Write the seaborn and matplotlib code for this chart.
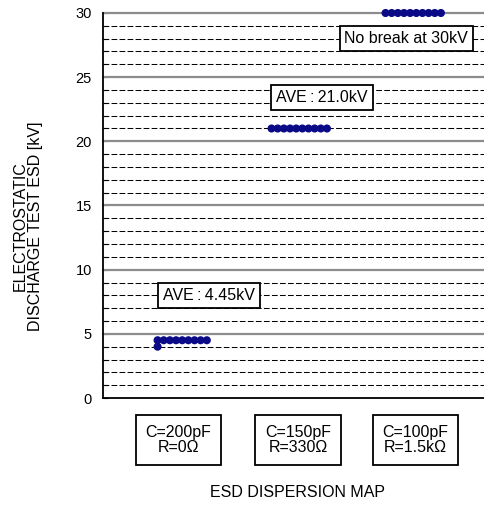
import numpy as np
import pandas as pd
import matplotlib
matplotlib.use("Agg")
import matplotlib.pyplot as plt
import matplotlib.transforms as mtransforms
import seaborn as sns

# ---- data ----
conditions = ["C=200pF\nR=0Ω", "C=150pF\nR=330Ω", "C=100pF\nR=1.5kΩ"]
esd_200pF = [4.0, 4.5, 4.5, 4.5, 4.5, 4.5, 4.5, 4.5, 4.5, 4.5]
esd_150pF = [21.0, 21.0, 21.0, 21.0, 21.0, 21.0, 21.0, 21.0, 21.0, 21.0]
esd_100pF = [30.0, 30.0, 30.0, 30.0, 30.0, 30.0, 30.0, 30.0, 30.0, 30.0]
notes = ["AVE\u2009:\u20094.45kV", "AVE\u2009:\u200921.0kV", "No break at 30kV"]
note_y = [8.0, 23.4, 28.0]
note_dx = [0.22, 0.21, -0.05]
box_dx = [-0.05, 0.0, 0.03]
y_ticks = [0, 5, 10, 15, 20, 25, 30]

sns.set_style("white")
plt.rcParams["font.family"] = ["Liberation Sans", "DejaVu Sans"]
plt.rcParams["font.size"] = 11.5
plt.rcParams["text.color"] = "black"
plt.rcParams["axes.labelcolor"] = "black"

# build dot-plot table: samples with equal value stacked sideways
step = 0.054
rows = []
for gi, vals in enumerate([esd_200pF, esd_150pF, esd_100pF]):
    counts = {}
    for v in vals:
        k = counts.get(v, 0)
        counts[v] = k + 1
        rows.append({"x": gi + (k - 4.3) * step, "esd": v, "cond": conditions[gi]})
df = pd.DataFrame(rows)

fig = plt.figure(figsize=(4.84, 5.11), dpi=100)
ax = fig.add_axes([103 / 484, 113 / 511, 388 / 484, 385 / 511])

# grid
for v in np.arange(0, 31, 1):
    if v % 5 == 0:
        continue
    ax.axhline(v, color="black", lw=0.75, ls=(0, (5.5, 2.2)), zorder=1)
for v in y_ticks[1:]:
    ax.axhline(v, color="#8c8c8c", lw=1.6, zorder=1.5, clip_on=False)

sns.scatterplot(data=df, x="x", y="esd", ax=ax, color="#0a0a86", s=34,
                edgecolor="none", linewidth=0, zorder=5, clip_on=False, legend=False)

ax.set_xlim(-0.711, 2.693)
ax.set_ylim(0, 30)
ax.set_yticks(y_ticks)
ax.set_yticks(np.arange(0, 31, 1), minor=True)
ax.set_xticks([])
ax.tick_params(axis="y", which="both", direction="in", left=True, labelsize=10.5,
               pad=8, colors="black")
ax.tick_params(axis="y", which="major", length=3.5, width=0.8)
ax.tick_params(axis="y", which="minor", length=3.5, width=0.8)

for s in ["left", "bottom"]:
    ax.spines[s].set_color("black")
    ax.spines[s].set_linewidth(1.3)
ax.spines["top"].set_visible(False)
ax.spines["right"].set_visible(False)

ax.set_xlabel("ESD DISPERSION MAP", fontsize=11.5)
ax.xaxis.set_label_coords(0.5, -0.226)
ax.set_ylabel("ELECTROSTATIC\nDISCHARGE TEST ESD [kV]", fontsize=11.5, linespacing=1.0)
ax.yaxis.set_label_coords(-0.155, 0.447)

# condition boxes under the axis
trans = mtransforms.blended_transform_factory(ax.transData, ax.transAxes)
for gi, (lab, dx) in enumerate(zip(conditions, box_dx)):
    ax.text(gi + dx, -0.109, lab, transform=trans, ha="center", va="center",
            multialignment="center", fontsize=11.5, linespacing=1.05,
            bbox=dict(boxstyle="square,pad=0.6", fc="white", ec="black", lw=1.3),
            clip_on=False)

# annotation boxes
for gi, (txt, yv, dx) in enumerate(zip(notes, note_y, note_dx)):
    ax.text(gi + dx, yv, txt, ha="center", va="center", fontsize=11.5, zorder=6,
            bbox=dict(boxstyle="square,pad=0.3", fc="white", ec="black", lw=1.3))

fig.savefig("out.png", dpi=100)
